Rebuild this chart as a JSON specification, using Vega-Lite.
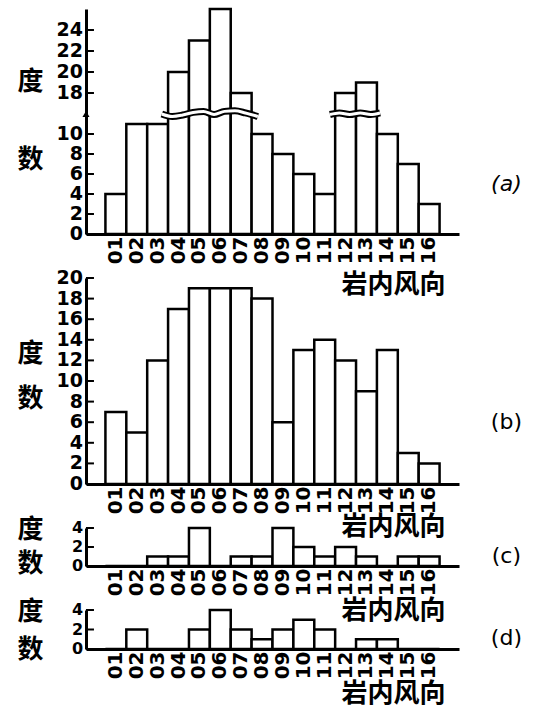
{
  "$schema": "https://vega.github.io/schema/vega-lite/v6.json",
  "padding": {"left": 16, "top": 7, "right": 5, "bottom": 5},
  "background": "white",
  "config": {
    "view": {"stroke": null},
    "axis": {"domainColor": "black", "domainWidth": 3, "labelColor": "black", "titleColor": "black", "grid": false},
    "axisX": {"ticks": false, "labelAngle": -90, "labelFont": "DejaVu Sans", "labelFontSize": 20, "labelFontWeight": "bold", "labelPadding": 2, "labelOverlap": false, "titleFont": "Noto Sans CJK SC", "titleFontSize": 26, "titleFontWeight": "bold", "titleAlign": "center", "titleBaseline": "middle", "titleX": 307},
    "axisY": {"ticks": false, "labels": false, "titleAngle": 0, "titleFont": "Noto Sans CJK SC", "titleFontSize": 26, "titleFontWeight": "bold", "titleAlign": "center", "titleBaseline": "middle", "titleX": -56}
  },
  "datasets": {
    "a": [{"d":"01","n":4},{"d":"02","n":11},{"d":"03","n":11},{"d":"04","n":20},{"d":"05","n":23},{"d":"06","n":26},{"d":"07","n":18},{"d":"08","n":10},{"d":"09","n":8},{"d":"10","n":6},{"d":"11","n":4},{"d":"12","n":18},{"d":"13","n":19},{"d":"14","n":10},{"d":"15","n":7},{"d":"16","n":3}],
    "b": [{"d":"01","n":7},{"d":"02","n":5},{"d":"03","n":12},{"d":"04","n":17},{"d":"05","n":19},{"d":"06","n":19},{"d":"07","n":19},{"d":"08","n":18},{"d":"09","n":6},{"d":"10","n":13},{"d":"11","n":14},{"d":"12","n":12},{"d":"13","n":9},{"d":"14","n":13},{"d":"15","n":3},{"d":"16","n":2}],
    "c": [{"d":"01","n":0},{"d":"02","n":0},{"d":"03","n":1},{"d":"04","n":1},{"d":"05","n":4},{"d":"06","n":0},{"d":"07","n":1},{"d":"08","n":1},{"d":"09","n":4},{"d":"10","n":2},{"d":"11","n":1},{"d":"12","n":2},{"d":"13","n":1},{"d":"14","n":0},{"d":"15","n":1},{"d":"16","n":1}],
    "d": [{"d":"01","n":0},{"d":"02","n":2},{"d":"03","n":0},{"d":"04","n":0},{"d":"05","n":2},{"d":"06","n":4},{"d":"07","n":2},{"d":"08","n":1},{"d":"09","n":2},{"d":"10","n":3},{"d":"11","n":2},{"d":"12","n":0},{"d":"13","n":1},{"d":"14","n":1},{"d":"15","n":0},{"d":"16","n":0}],
    "wave": [
      {"seg":1,"wx":2.7,"v":12},{"seg":1,"wx":3.2,"v":11.75},{"seg":1,"wx":3.7,"v":11.9},{"seg":1,"wx":4.2,"v":16.15},{"seg":1,"wx":4.7,"v":16.25},{"seg":1,"wx":5.2,"v":11.95},{"seg":1,"wx":5.7,"v":16.25},{"seg":1,"wx":6.2,"v":16.3},{"seg":1,"wx":6.7,"v":16.1},{"seg":1,"wx":7.3,"v":11.75},
      {"seg":2,"wx":10.75,"v":11.95},{"seg":2,"wx":11.2,"v":16.1},{"seg":2,"wx":11.7,"v":11.95},{"seg":2,"wx":12.2,"v":16.1},{"seg":2,"wx":12.7,"v":11.95},{"seg":2,"wx":13.15,"v":16.1}
    ]
  },
  "bounds": "flush",
  "spacing": 44,
  "vconcat": [
    {
      "width": 373, "height": 225,
      "resolve": {"scale": {"x": "independent"}},
      "layer": [
        {
          "data": {"name": "a"},
          "mark": {"type": "bar", "fill": "white", "stroke": "black", "strokeWidth": 2.5},
          "encoding": {
            "x": {"field": "d", "type": "ordinal", "scale": {"paddingInner": 0, "paddingOuter": 0.93}, "axis": {"title": "岩内风向", "titleY": 50}},
            "y": {"field": "n", "type": "quantitative", "scale": {"domain": [0, 12, 16, 26], "range": [225, 105, 105, 0], "nice": false, "zero": false},
                  "axis": {"title": ["度", "数"], "titleLineHeight": 78, "titleY": 72}}
          }
        },
        {
          "data": {"values": [{"tk":0},{"tk":2},{"tk":4},{"tk":6},{"tk":8},{"tk":10},{"tk":18},{"tk":20},{"tk":22},{"tk":24}]},
          "layer": [
            {
              "mark": {"type": "point", "shape": "stroke", "size": 64, "strokeWidth": 2, "filled": false, "color": "black", "opacity": 1},
              "encoding": {
                "x": {"datum": -0.74, "type": "quantitative", "scale": {"domain": [-0.93, 16.93], "nice": false, "zero": false}, "axis": null},
                "y": {"field": "tk", "type": "quantitative"}
              }
            },
            {
              "mark": {"type": "text", "align": "right", "baseline": "middle", "font": "DejaVu Sans", "fontWeight": "bold", "fontSize": 19, "color": "black"},
              "encoding": {
                "x": {"datum": -1.07, "type": "quantitative", "scale": {"domain": [-0.93, 16.93], "nice": false, "zero": false}, "axis": null},
                "y": {"field": "tk", "type": "quantitative"},
                "text": {"field": "tk"}
              }
            }
          ]
        },
        {
          "data": {"name": "wave"},
          "mark": {"type": "line", "stroke": "black", "strokeWidth": 7, "interpolate": "monotone"},
          "encoding": {
            "x": {"field": "wx", "type": "quantitative", "scale": {"domain": [-0.93, 16.93], "nice": false, "zero": false}, "axis": null},
            "y": {"field": "v", "type": "quantitative"},
            "detail": {"field": "seg"}
          }
        },
        {
          "data": {"name": "wave"},
          "mark": {"type": "line", "stroke": "white", "strokeWidth": 3, "interpolate": "monotone"},
          "encoding": {
            "x": {"field": "wx", "type": "quantitative", "scale": {"domain": [-0.93, 16.93], "nice": false, "zero": false}, "axis": null},
            "y": {"field": "v", "type": "quantitative"},
            "detail": {"field": "seg"}
          }
        },
        {
          "data": {"values": [{"bx": -0.93, "by": 12}]},
          "mark": {"type": "point", "shape": "triangle-up", "filled": true, "color": "black", "size": 50, "opacity": 1},
          "encoding": {
            "x": {"field": "bx", "type": "quantitative", "scale": {"domain": [-0.93, 16.93], "nice": false, "zero": false}, "axis": null},
            "y": {"field": "by", "type": "quantitative"}
          }
        },
        {
          "data": {"values": [{"lab": "(a)"}]},
          "mark": {"type": "text", "font": "DejaVu Sans", "fontSize": 22, "fontStyle": "italic", "color": "black"},
          "encoding": {
            "x": {"datum": 19.2, "type": "quantitative", "scale": {"domain": [-0.93, 16.93], "nice": false, "zero": false}, "axis": null},
            "y": {"datum": 5, "type": "quantitative"},
            "text": {"field": "lab"}
          }
        }
      ]
    },
    {
      "width": 373, "height": 206,
      "resolve": {"scale": {"x": "independent"}},
      "layer": [
        {
          "data": {"name": "b"},
          "mark": {"type": "bar", "fill": "white", "stroke": "black", "strokeWidth": 2.5},
          "encoding": {
            "x": {"field": "d", "type": "ordinal", "scale": {"paddingInner": 0, "paddingOuter": 0.93}, "axis": {"title": "岩内风向", "titleY": 42}},
            "y": {"field": "n", "type": "quantitative", "scale": {"domain": [0, 20], "nice": false},
                  "axis": {"title": ["度", "数"], "titleLineHeight": 45, "titleY": 75}}
          }
        },
        {
          "data": {"values": [{"tk":0},{"tk":2},{"tk":4},{"tk":6},{"tk":8},{"tk":10},{"tk":12},{"tk":14},{"tk":16},{"tk":18},{"tk":20}]},
          "layer": [
            {
              "mark": {"type": "point", "shape": "stroke", "size": 64, "strokeWidth": 2, "filled": false, "color": "black", "opacity": 1},
              "encoding": {
                "x": {"datum": -0.74, "type": "quantitative", "scale": {"domain": [-0.93, 16.93], "nice": false, "zero": false}, "axis": null},
                "y": {"field": "tk", "type": "quantitative"}
              }
            },
            {
              "mark": {"type": "text", "align": "right", "baseline": "middle", "font": "DejaVu Sans", "fontWeight": "bold", "fontSize": 19, "color": "black"},
              "encoding": {
                "x": {"datum": -1.07, "type": "quantitative", "scale": {"domain": [-0.93, 16.93], "nice": false, "zero": false}, "axis": null},
                "y": {"field": "tk", "type": "quantitative"},
                "text": {"field": "tk"}
              }
            }
          ]
        },
        {
          "data": {"values": [{"lab": "(b)"}]},
          "mark": {"type": "text", "font": "DejaVu Sans", "fontSize": 22, "color": "black"},
          "encoding": {
            "x": {"datum": 19.2, "type": "quantitative", "scale": {"domain": [-0.93, 16.93], "nice": false, "zero": false}, "axis": null},
            "y": {"datum": 6, "type": "quantitative"},
            "text": {"field": "lab"}
          }
        }
      ]
    },
    {
      "width": 373, "height": 38,
      "resolve": {"scale": {"x": "independent"}},
      "layer": [
        {
          "data": {"name": "c"},
          "mark": {"type": "bar", "fill": "white", "stroke": "black", "strokeWidth": 2.5},
          "encoding": {
            "x": {"field": "d", "type": "ordinal", "scale": {"paddingInner": 0, "paddingOuter": 0.93}, "axis": {"title": "岩内风向", "titleY": 44}},
            "y": {"field": "n", "type": "quantitative", "scale": {"domain": [0, 4], "nice": false},
                  "axis": {"title": ["度", "数"], "titleLineHeight": 34, "titleY": 1}}
          }
        },
        {
          "data": {"values": [{"tk":0},{"tk":2},{"tk":4}]},
          "layer": [
            {
              "mark": {"type": "point", "shape": "stroke", "size": 64, "strokeWidth": 2, "filled": false, "color": "black", "opacity": 1},
              "encoding": {
                "x": {"datum": -0.74, "type": "quantitative", "scale": {"domain": [-0.93, 16.93], "nice": false, "zero": false}, "axis": null},
                "y": {"field": "tk", "type": "quantitative"}
              }
            },
            {
              "mark": {"type": "text", "align": "right", "baseline": "middle", "font": "DejaVu Sans", "fontWeight": "bold", "fontSize": 16, "color": "black"},
              "encoding": {
                "x": {"datum": -1.07, "type": "quantitative", "scale": {"domain": [-0.93, 16.93], "nice": false, "zero": false}, "axis": null},
                "y": {"field": "tk", "type": "quantitative"},
                "text": {"field": "tk"}
              }
            }
          ]
        },
        {
          "data": {"values": [{"lab": "(c)"}]},
          "mark": {"type": "text", "font": "DejaVu Sans", "fontSize": 22, "color": "black"},
          "encoding": {
            "x": {"datum": 19.2, "type": "quantitative", "scale": {"domain": [-0.93, 16.93], "nice": false, "zero": false}, "axis": null},
            "y": {"datum": 1.05, "type": "quantitative"},
            "text": {"field": "lab"}
          }
        }
      ]
    },
    {
      "width": 373, "height": 39,
      "resolve": {"scale": {"x": "independent"}},
      "layer": [
        {
          "data": {"name": "d"},
          "mark": {"type": "bar", "fill": "white", "stroke": "black", "strokeWidth": 2.5},
          "encoding": {
            "x": {"field": "d", "type": "ordinal", "scale": {"paddingInner": 0, "paddingOuter": 0.93}, "axis": {"title": "岩内风向", "titleY": 44}},
            "y": {"field": "n", "type": "quantitative", "scale": {"domain": [0, 4], "nice": false},
                  "axis": {"title": ["度", "数"], "titleLineHeight": 38, "titleY": 1}}
          }
        },
        {
          "data": {"values": [{"tk":0},{"tk":2},{"tk":4}]},
          "layer": [
            {
              "mark": {"type": "point", "shape": "stroke", "size": 64, "strokeWidth": 2, "filled": false, "color": "black", "opacity": 1},
              "encoding": {
                "x": {"datum": -0.74, "type": "quantitative", "scale": {"domain": [-0.93, 16.93], "nice": false, "zero": false}, "axis": null},
                "y": {"field": "tk", "type": "quantitative"}
              }
            },
            {
              "mark": {"type": "text", "align": "right", "baseline": "middle", "font": "DejaVu Sans", "fontWeight": "bold", "fontSize": 16, "color": "black"},
              "encoding": {
                "x": {"datum": -1.07, "type": "quantitative", "scale": {"domain": [-0.93, 16.93], "nice": false, "zero": false}, "axis": null},
                "y": {"field": "tk", "type": "quantitative"},
                "text": {"field": "tk"}
              }
            }
          ]
        },
        {
          "data": {"values": [{"lab": "(d)"}]},
          "mark": {"type": "text", "font": "DejaVu Sans", "fontSize": 22, "color": "black"},
          "encoding": {
            "x": {"datum": 19.2, "type": "quantitative", "scale": {"domain": [-0.93, 16.93], "nice": false, "zero": false}, "axis": null},
            "y": {"datum": 1.1, "type": "quantitative"},
            "text": {"field": "lab"}
          }
        }
      ]
    }
  ]
}
